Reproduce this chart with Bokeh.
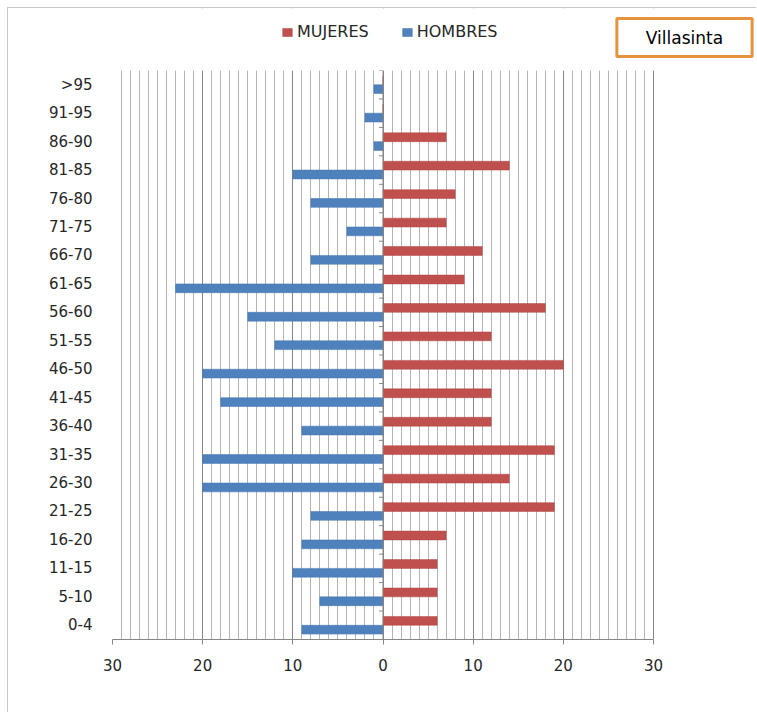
from bokeh.plotting import figure
from bokeh.models import (ColumnDataSource, FixedTicker, Label, Legend,
                          LegendItem, Range1d, BoxAnnotation)
from bokeh.transform import dodge
from bokeh.embed import file_html
from bokeh.resources import INLINE

# ---- data ----
categories = ["0-4", "5-10", "11-15", "16-20", "21-25", "26-30", "31-35", "36-40",
              "41-45", "46-50", "51-55", "56-60", "61-65", "66-70", "71-75", "76-80",
              "81-85", "86-90", "91-95", ">95"]
mujeres = [6, 6, 6, 7, 19, 14, 19, 12, 12, 20, 12, 18, 9, 11, 7, 8, 14, 7, 0, 0]
hombres = [9, 7, 10, 9, 8, 20, 20, 9, 18, 20, 12, 15, 23, 8, 4, 8, 10, 1, 2, 1]
x_ticks = [-30, -20, -10, 0, 10, 20, 30]
x_tick_labels = ["30", "20", "10", "0", "10", "20", "30"]
series_names = ["MUJERES", "HOMBRES"]
title_text = "Villasinta"

FONT = "DejaVu Sans"
TXT = "#262626"
MAJOR = "#868686"
MINOR = "#b4b4b4"

# ---- layout (pixels) ----
W, H = 749, 705
LEFT, BOTTOM = 104, 74          # figure border left / bottom
PLOT_W = 541                     # pixel width of the -30..30 span
PLOT_TOP = 62                    # frame px above the first category row
frame_w = W - LEFT
frame_h = H - BOTTOM
x_px = PLOT_W / (x_ticks[-1] - x_ticks[0])
y_px = (frame_h - PLOT_TOP) / len(categories)

idx = list(range(len(categories)))

p = figure(width=W, height=H, output_backend="svg", toolbar_location=None,
           x_range=Range1d(x_ticks[0], x_ticks[0] + frame_w / x_px),
           y_range=Range1d(-0.5, -0.5 + frame_h / y_px),
           min_border_left=LEFT, min_border_right=0,
           min_border_top=0, min_border_bottom=BOTTOM)
p.outline_line_color = None
p.background_fill_color = "white"
p.border_fill_color = "white"
p.styles = {"margin-left": "7px", "margin-top": "7px",
            "border-top": "1px solid #c8c8c8", "border-left": "1px solid #c8c8c8"}

src = ColumnDataSource(dict(y=idx, muj=mujeres, hom=[-h for h in hombres]))

# grid
p.xaxis.ticker = FixedTicker(ticks=x_ticks, minor_ticks=list(range(x_ticks[0], x_ticks[-1] + 1)))
p.xaxis.major_label_overrides = {t: l for t, l in zip(x_ticks, x_tick_labels)}
p.xaxis.bounds = (x_ticks[0], x_ticks[-1])
p.xgrid.grid_line_color = MAJOR
p.xgrid.minor_grid_line_color = MINOR
p.ygrid.grid_line_color = None

# white band above the category rows (keeps grid lines inside the plot area)
p.add_layout(BoxAnnotation(bottom=len(categories) - 0.5, fill_color="white", fill_alpha=1,
                           line_color=None, level="annotation"))

# bars
r_m = p.hbar(y=dodge("y", 0.155), left=0, right="muj", height=0.31,
             fill_color="#C0504D", line_color="#B04542", line_width=0.5, source=src)
r_h = p.hbar(y=dodge("y", -0.155), left="hom", right=0, height=0.31,
             fill_color="#4F81BD", line_color="#4374B0", line_width=0.5, source=src)

# center vertical axis with tick marks at category boundaries
top_b = len(categories) - 0.5
p.segment(x0=0, x1=0, y0=-0.5, y1=top_b, line_color=MAJOR, line_width=1)
bounds = [i - 0.5 for i in range(len(categories) + 1)]
p.segment(x0=-0.45, x1=0, y0=bounds, y1=bounds, line_color=MAJOR, line_width=1)

# x axis
p.xaxis.axis_line_color = MAJOR
p.xaxis.major_tick_line_color = MAJOR
p.xaxis.major_tick_out = 5
p.xaxis.major_tick_in = 0
p.xaxis.minor_tick_line_color = None
p.xaxis.major_label_standoff = 14
p.xaxis.major_label_text_font = FONT
p.xaxis.major_label_text_font_size = "15px"
p.xaxis.major_label_text_color = TXT

# y axis (category labels)
p.yaxis.ticker = FixedTicker(ticks=idx)
p.yaxis.major_label_overrides = {i: c for i, c in enumerate(categories)}
p.yaxis.axis_line_color = None
p.yaxis.major_tick_line_color = None
p.yaxis.minor_tick_line_color = None
p.yaxis.major_tick_out = 0
p.yaxis.major_tick_in = 0
p.yaxis.major_label_standoff = 20
p.yaxis.major_label_text_font = FONT
p.yaxis.major_label_text_font_size = "15px"
p.yaxis.major_label_text_color = TXT

# legend (inside the top white band)
legend = Legend(items=[LegendItem(label=series_names[0], renderers=[r_m]),
                       LegendItem(label=series_names[1], renderers=[r_h])],
                orientation="horizontal", location=(169, frame_h - 33),
                glyph_width=12, glyph_height=10, label_standoff=4, spacing=32,
                label_height=16, padding=0, margin=0, border_line_color=None,
                background_fill_alpha=0, level="overlay",
                label_text_font=FONT, label_text_font_size="16px", label_text_color=TXT)
p.add_layout(legend)

# title box
p.add_layout(Label(x=572, y=frame_h - 29, x_units="screen", y_units="screen", text=title_text,
                   text_align="center", text_baseline="middle", level="overlay",
                   text_font=FONT, text_font_size="17px", text_color="black",
                   background_fill_color="white",
                   border_line_color="#E5933F", border_line_width=3,
                   padding=dict(left=29, right=29, top=9, bottom=9)))

open("out.html", "w").write(file_html(p, INLINE))
